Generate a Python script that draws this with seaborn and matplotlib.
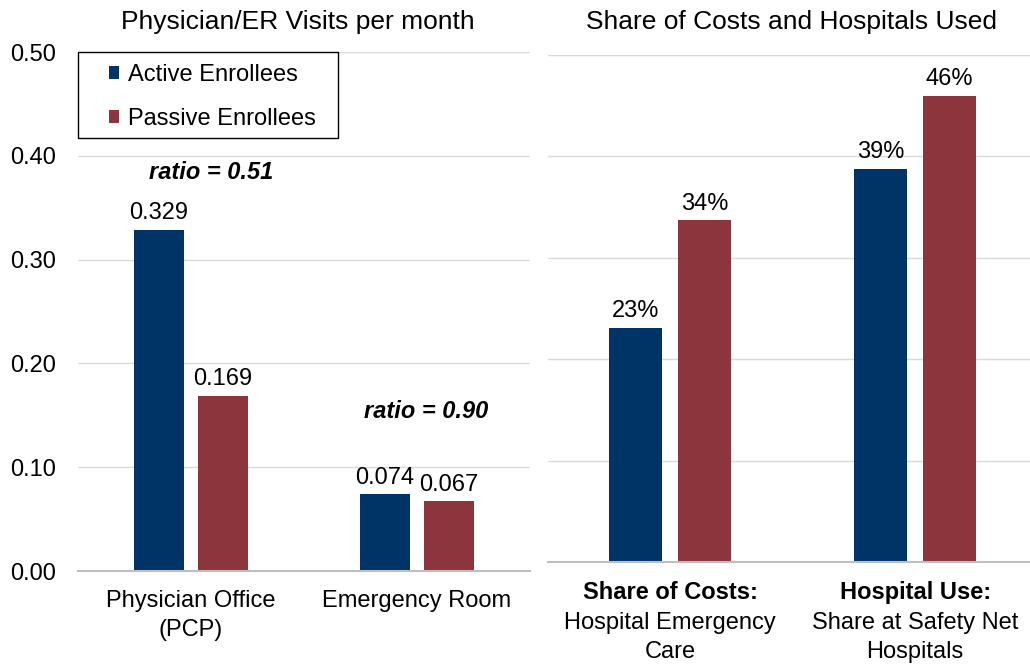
import seaborn as sns
import matplotlib.pyplot as plt
import pandas as pd
from matplotlib.patches import Rectangle

groups = ["Active Enrollees", "Passive Enrollees"]
visit_cats = ["Physician Office\n(PCP)", "Emergency Room"]
visit_active = [0.329, 0.074]
visit_passive = [0.169, 0.067]
visit_labels = [["0.329", "0.074"], ["0.169", "0.067"]]
ratios = ["ratio = 0.51", "ratio = 0.90"]
ratio_y = [0.384, 0.154]
ratio_x = [0.09, 1.04]

share_cats = ["Share of Costs", "Hospital Use"]
share_bold = ["Share of Costs:", "Hospital Use:"]
share_rest = ["Hospital Emergency\nCare", "Share at Safety Net\nHospitals"]
share_active = [0.231, 0.388]
share_passive = [0.337, 0.460]
share_labels = [["23%", "39%"], ["34%", "46%"]]

colors = ["#003366", "#8C353D"]

sns.set_style("white")
plt.rcParams["font.family"] = ["Liberation Sans", "DejaVu Sans"]
plt.rcParams["text.color"] = "black"
plt.rcParams["xtick.color"] = "black"
plt.rcParams["ytick.color"] = "black"
fs = 17
tfs = 19

left = pd.DataFrame({"cat": visit_cats * 2,
                     "val": visit_active + visit_passive,
                     "grp": [groups[0]] * 2 + [groups[1]] * 2})
right = pd.DataFrame({"cat": share_cats * 2,
                      "val": share_active + share_passive,
                      "grp": [groups[0]] * 2 + [groups[1]] * 2})

fig = plt.figure(figsize=(10.3, 6.64), dpi=100)
ax1 = fig.add_axes([0.0757, 0.140, 0.4388, 0.7816])
ax2 = fig.add_axes([0.532, 0.1536, 0.468, 0.7636])

sns.barplot(data=left, x="cat", y="val", hue="grp", palette=colors, ax=ax1,
            width=0.566, gap=0.22, saturation=1, linewidth=0, legend=True)
sns.barplot(data=right, x="cat", y="val", hue="grp", palette=colors, ax=ax2,
            width=0.563, gap=0.22, saturation=1, linewidth=0, legend=False)

for ax in (ax1, ax2):
    ax.set_ylim(0, 0.5)
    ax.set_yticks([0, 0.1, 0.2, 0.3, 0.4, 0.5])
    ax.grid(axis="y", color="#d9d9d9", lw=1)
    ax.set_axisbelow(True)
    for s in ["left", "right", "top"]:
        ax.spines[s].set_visible(False)
    ax.spines["bottom"].set_color("#bfbfbf")
    ax.spines["bottom"].set_linewidth(1.5)
    ax.set_xlabel("")
    ax.set_ylabel("")
    ax.tick_params(length=0)

ax1.set_xlim(-0.5, 1.5)
ax1.set_yticklabels([f"{v:.2f}" for v in ax1.get_yticks()], fontsize=fs)
ax1.set_xticks([0, 1])
ax1.set_xticklabels(visit_cats, fontsize=fs, linespacing=1.4)
ax1.tick_params(axis="x", pad=14)
ax1.tick_params(axis="y", pad=16)

for cont, labs in zip(ax1.containers, visit_labels):
    ax1.bar_label(cont, labels=labs, fontsize=fs, padding=4)
for x, y, t in zip(ratio_x, ratio_y, ratios):
    ax1.text(x, y, t, fontsize=fs, fontweight="bold", fontstyle="italic",
             ha="center", va="center")

# legend box drawn separately so the inner padding can be wider than tall
ax1.add_patch(Rectangle((0, 0.834), 0.575, 0.166, transform=ax1.transAxes,
                        facecolor="white", edgecolor="black", lw=1.0,
                        clip_on=False, zorder=4))
leg = ax1.legend(loc="upper left", bbox_to_anchor=(0.068, 0.977), fontsize=fs,
                 frameon=False, handlelength=0.45, handleheight=0.45,
                 handletextpad=0.35, labelspacing=0.93, borderpad=0,
                 borderaxespad=0)
leg.set_zorder(5)
for t in leg.get_texts():
    t.set_color("black")

ax2.set_xlim(-0.498, 1.469)
ax2.set_yticklabels([])
ax2.set_xticks([0, 1])
ax2.set_xticklabels([])
for cont, labs in zip(ax2.containers, share_labels):
    ax2.bar_label(cont, labels=labs, fontsize=fs, padding=4)
for i in range(2):
    ax2.text(i, -0.030, share_bold[i], fontsize=fs, fontweight="bold",
             ha="center", va="center", clip_on=False)
    ax2.text(i, -0.049, share_rest[i], fontsize=fs, ha="center", va="top",
             linespacing=1.45, clip_on=False)

fig.text(0.2894, 0.967, "Physician/ER Visits per month", fontsize=tfs,
         ha="center", va="center")
fig.text(0.7689, 0.967, "Share of Costs and Hospitals Used", fontsize=tfs,
         ha="center", va="center")

fig.savefig("out.png", dpi=100)
